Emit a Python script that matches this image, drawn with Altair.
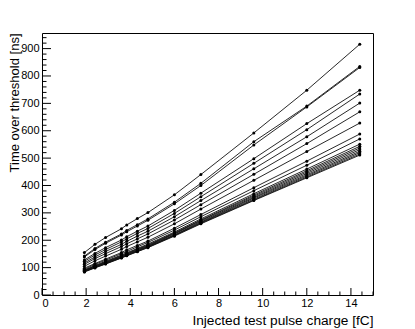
import altair as alt
import pandas as pd

# Injected charge [fC]
charge = [1.92, 2.4, 2.88, 3.6, 3.84, 4.32, 4.8, 6.0, 7.2, 9.6, 12.0, 14.4]

# Time over threshold [ns], one list per channel
ch01 = [155, 185, 210, 242, 256, 279, 301, 366, 440, 592, 748, 916]
ch02 = [142, 170, 193, 223, 236, 257, 278, 339, 408, 560, 690, 835]
ch03 = [139, 166, 189, 219, 231, 252, 273, 333, 400, 548, 687, 831]
ch04 = [128, 152, 173, 201, 213, 233, 252, 309, 372, 498, 626, 748]
ch05 = [123, 146, 166, 194, 205, 225, 243, 298, 359, 481, 604, 734]
ch06 = [117, 139, 159, 185, 196, 215, 233, 286, 345, 461, 578, 701]
ch07 = [112, 133, 151, 177, 187, 205, 223, 274, 330, 441, 553, 669]
ch08 = [105, 125, 142, 167, 177, 194, 211, 260, 314, 419, 524, 628]
ch09 = [98, 115, 131, 155, 165, 181, 197, 244, 294, 392, 489, 588]
ch10 = [94, 112, 127, 151, 159, 176, 192, 237, 286, 381, 474, 570]
ch11 = [91, 108, 123, 146, 154, 170, 186, 230, 278, 370, 460, 551]
ch12 = [90, 106, 121, 144, 152, 168, 183, 227, 274, 365, 454, 543]
ch13 = [89, 105, 119, 142, 150, 166, 181, 225, 272, 361, 449, 537]
ch14 = [88, 103, 118, 140, 149, 164, 179, 223, 269, 357, 444, 531]
ch15 = [86, 102, 116, 139, 147, 162, 177, 220, 266, 354, 439, 525]
ch16 = [86, 101, 115, 137, 145, 161, 176, 218, 264, 350, 435, 520]
ch17 = [85, 100, 114, 136, 144, 159, 174, 217, 262, 347, 431, 515]
ch18 = [84, 99, 113, 135, 143, 158, 173, 215, 260, 345, 428, 511]

series = [ch01, ch02, ch03, ch04, ch05, ch06, ch07, ch08, ch09,
          ch10, ch11, ch12, ch13, ch14, ch15, ch16, ch17, ch18]

x_major = [0, 2, 4, 6, 8, 10, 12, 14]
x_minor = [k * 0.5 for k in range(31) if k % 4 != 0]
y_major = [0, 100, 200, 300, 400, 500, 600, 700, 800, 900]
y_minor = [k * 20 for k in range(48) if k % 5 != 0]

rows = []
for i, s in enumerate(series):
    for q, t in zip(charge, s):
        rows.append({"ch": f"ch{i + 1:02d}", "q": q, "tot": t})
df = pd.DataFrame(rows)

W, H = 331, 262
FONT = "Liberation Sans"
xs = alt.Scale(domain=[0, 15], nice=False, zero=False)
ys = alt.Scale(domain=[0, 957], nice=False, zero=False)

xaxis = alt.Axis(values=x_major, format="d", labelPadding=2,
                 title="Injected test pulse charge [fC]", titleAnchor="end",
                 titlePadding=5, titleFontSize=13.7)
yaxis = alt.Axis(values=y_major, format="d", labelPadding=3,
                 title="Time over threshold [ns]", titleFontSize=13,
                 titleAngle=-90, titleAlign="right", titleBaseline="top",
                 titleX=-34, titleY=0)

base = alt.Chart(df)
lines = base.mark_line(color="#111111", strokeWidth=0.9).encode(
    x=alt.X("q:Q", scale=xs, axis=xaxis),
    y=alt.Y("tot:Q", scale=ys, axis=yaxis),
    detail="ch:N",
    order="q:Q",
)
points = base.mark_circle(color="black", size=9, opacity=1).encode(
    x=alt.X("q:Q", scale=xs, axis=xaxis),
    y=alt.Y("tot:Q", scale=ys, axis=yaxis),
)

xmaj = alt.Chart(pd.DataFrame({"q": x_major})).mark_rule(color="black", strokeWidth=1).encode(
    x=alt.X("q:Q", scale=xs, axis=xaxis), y=alt.value(H), y2=alt.value(H - 7))
xmin = alt.Chart(pd.DataFrame({"q": x_minor})).mark_rule(color="black", strokeWidth=1).encode(
    x=alt.X("q:Q", scale=xs, axis=xaxis), y=alt.value(H), y2=alt.value(H - 3.5))
ymaj = alt.Chart(pd.DataFrame({"tot": y_major})).mark_rule(color="black", strokeWidth=1).encode(
    y=alt.Y("tot:Q", scale=ys, axis=yaxis), x=alt.value(0), x2=alt.value(9))
ymin = alt.Chart(pd.DataFrame({"tot": y_minor})).mark_rule(color="black", strokeWidth=1).encode(
    y=alt.Y("tot:Q", scale=ys, axis=yaxis), x=alt.value(0), x2=alt.value(4.5))

chart = alt.layer(lines, points, xmaj, xmin, ymaj, ymin).properties(
    width=W, height=H,
    background="white",
    autosize=alt.AutoSizeParams(type="none"),
    padding={"left": 34, "top": 25, "right": 34, "bottom": 35},
).configure_view(
    stroke="black", strokeWidth=1
).configure_axis(
    ticks=False, domain=False, grid=False, labelOverlap=False,
    labelFont=FONT, labelFontSize=11, labelColor="black",
    titleFont=FONT, titleFontWeight="normal", titleColor="black",
)

chart.save("out.html", embed_options={"renderer": "svg", "actions": False})
